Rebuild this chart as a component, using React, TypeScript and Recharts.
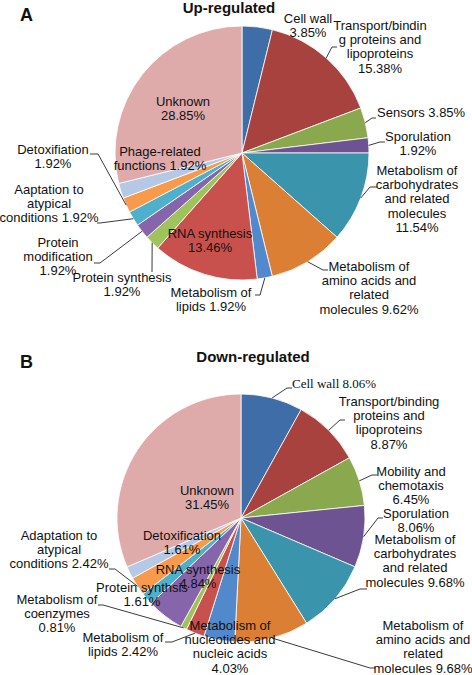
import { PieChart, Pie, Cell } from "recharts";

const UP_CATEGORIES = [
  "Cell wall",
  "Transport/binding proteins and lipoproteins",
  "Sensors",
  "Sporulation",
  "Metabolism of carbohydrates and related molecules",
  "Metabolism of amino acids and related molecules",
  "Metabolism of lipids",
  "RNA synthesis",
  "Protein synthesis",
  "Protein modification",
  "Aaptation to atypical conditions",
  "Detoxifiation",
  "Phage-related functions",
  "Unknown",
];
const UP_VALUES = [3.85, 15.38, 3.85, 1.92, 11.54, 9.62, 1.92, 13.46, 1.92, 1.92, 1.92, 1.92, 1.92, 28.85];
const UP_TEXT = [
  ["Cell wall", "3.85%"],
  ["Transport/bindin", "g proteins and", "lipoproteins", "15.38%"],
  ["Sensors 3.85%"],
  ["Sporulation", "1.92%"],
  ["Metabolism of", "carbohydrates", "and related", "molecules", "11.54%"],
  ["Metabolism of", "amino acids and", "related", "molecules 9.62%"],
  ["Metabolism of", "lipids 1.92%"],
  ["RNA synthesis", "13.46%"],
  ["Protein synthesis", "1.92%"],
  ["Protein", "modification", "1.92%"],
  ["Aaptation to", "atypical", "conditions 1.92%"],
  ["Detoxifiation", "1.92%"],
  ["Phage-related", "functions 1.92%"],
  ["Unknown", "28.85%"],
];

const DOWN_CATEGORIES = [
  "Cell wall",
  "Transport/binding proteins and lipoproteins",
  "Mobility and chemotaxis",
  "Sporulation",
  "Metabolism of carbohydrates and related molecules",
  "Metabolism of amino acids and related molecules",
  "Metabolism of nucleotides and nucleic acids",
  "Metabolism of lipids",
  "Metabolism of coenzymes",
  "RNA synthesis",
  "Protein synthsis",
  "Adaptation to atypical conditions",
  "Detoxification",
  "Unknown",
];
const DOWN_VALUES = [8.06, 8.87, 6.45, 8.06, 9.68, 9.68, 4.03, 2.42, 0.81, 4.84, 1.61, 2.42, 1.61, 31.45];
const DOWN_TEXT = [
  ["Cell wall  8.06%"],
  ["Transport/binding", "proteins and", "lipoproteins", "8.87%"],
  ["Mobility and", "chemotaxis", "6.45%"],
  ["Sporulation", "8.06%"],
  ["Metabolism of", "carbohydrates", "and related", "molecules 9.68%"],
  ["Metabolism of", "amino acids and", "related", "molecules 9.68%"],
  ["Metabolism of", "nucleotides and", "nucleic acids", "4.03%"],
  ["Metabolism of", "lipids 2.42%"],
  ["Metabolism of", "coenzymes", "0.81%"],
  ["RNA synthesis", "4.84%"],
  ["Protein synthsis", "1.61%"],
  ["Adaptation to", "atypical", "conditions 2.42%"],
  ["Detoxification", "1.61%"],
  ["Unknown", "31.45%"],
];

const COLORS = [
  "#3f6da8", "#a8423f", "#8aa84e", "#6d5391", "#3a94ab", "#db7f35",
  "#5289cc", "#c9514d", "#9fc35b", "#8665ab", "#4eb0cc", "#f89a4b",
  "#b5c8e6", "#deabaa",
];

type Layout = {
  x: number;
  y: number;
  anchor?: "start" | "middle" | "end";
  leader?: number[][];
  serif?: boolean;
};

// label placement (page pixels), leader = elbow + end point
const UP_LAYOUT: Layout[] = [
  { x: 308, y: 23 },
  { x: 380, y: 30, leader: [[332, 47], [337, 47]] },
  { x: 377, y: 117, anchor: "start", leader: [[372, 118], [376, 118]] },
  { x: 418, y: 141, leader: [[380, 142], [385, 142]] },
  { x: 417, y: 175, leader: [[370, 187], [377, 187]] },
  { x: 369, y: 271, leader: [[323, 270], [328, 270]] },
  { x: 211, y: 297, leader: [[260, 295], [255, 295]] },
  { x: 210, y: 238 },
  { x: 122, y: 282, leader: [[152, 272], [152, 272]] },
  { x: 58, y: 247, leader: [[100, 263], [94, 263]] },
  { x: 49, y: 194, leader: [[100, 223], [97, 223]] },
  { x: 53, y: 154, leader: [[98, 154], [90, 154]] },
  { x: 160, y: 156 },
  { x: 183, y: 106 },
];

const DOWN_LAYOUT: Layout[] = [
  { x: 292, y: 388, anchor: "start", serif: true, leader: [[287, 388], [292, 388]] },
  { x: 389, y: 406, leader: [[340, 420], [345, 420]] },
  { x: 411, y: 476, leader: [[372, 475], [377, 475]] },
  { x: 416, y: 518, leader: [[378, 518], [383, 518]] },
  { x: 415, y: 544, leader: [[360, 589], [367, 589]] },
  { x: 423, y: 630, leader: [[370, 668], [375, 668]] },
  { x: 230, y: 630 },
  { x: 123, y: 642, leader: [[172, 642], [165, 642]] },
  { x: 57, y: 604, leader: [[103, 605], [98, 605]] },
  { x: 198, y: 574 },
  { x: 142, y: 592 },
  { x: 59, y: 540, leader: [[115, 569], [109, 569]] },
  { x: 182, y: 540 },
  { x: 207, y: 495 },
];

const RADIAN = Math.PI / 180;
const FONT = "'Liberation Sans', Arial, sans-serif";
const LINE_H = 14.2;

function makeLabel(layouts: Layout[], texts: string[][]) {
  return (props: any) => {
    const { cx, cy, midAngle, outerRadius, index } = props;
    const l = layouts[index];
    const lines = texts[index];
    const sx = cx + outerRadius * Math.cos(-midAngle * RADIAN);
    const sy = cy + outerRadius * Math.sin(-midAngle * RADIAN);
    return (
      <g key={`lbl-${index}`}>
        {l.leader && (
          <polyline
            points={`${sx},${sy} ${l.leader.map((p) => p.join(",")).join(" ")}`}
            fill="none"
            stroke="#3a3a3a"
            strokeWidth={1}
          />
        )}
        <text
          x={l.x}
          y={l.y}
          textAnchor={l.anchor ?? "middle"}
          fontFamily={l.serif ? "'Liberation Serif', 'Times New Roman', serif" : FONT}
          fontSize={13}
          fill="#111"
        >
          {lines.map((t, i) => (
            <tspan key={i} x={l.x} y={l.y + i * LINE_H}>
              {t}
            </tspan>
          ))}
        </text>
      </g>
    );
  };
}

const upData = UP_CATEGORIES.map((name, i) => ({ name, value: UP_VALUES[i] }));
const downData = DOWN_CATEGORIES.map((name, i) => ({ name, value: DOWN_VALUES[i] }));

export default function App() {
  return (
    <div style={{ position: "absolute", left: 0, top: 0, width: 472, height: 675, background: "#fff" }}>
      <PieChart width={472} height={675} margin={{ top: 0, right: 0, bottom: 0, left: 0 }}>
        <Pie
          data={upData}
          dataKey="value"
          nameKey="name"
          cx={242}
          cy={153}
          outerRadius={127}
          startAngle={90}
          endAngle={-270}
          stroke="#ffffff"
          strokeWidth={0.8}
          label={makeLabel(UP_LAYOUT, UP_TEXT)}
          labelLine={false}
          isAnimationActive={false}
        >
          {upData.map((d, i) => (
            <Cell key={d.name} fill={COLORS[i]} />
          ))}
        </Pie>
        <Pie
          data={downData}
          dataKey="value"
          nameKey="name"
          cx={241}
          cy={518}
          outerRadius={124}
          startAngle={90}
          endAngle={-270}
          stroke="#ffffff"
          strokeWidth={0.8}
          label={makeLabel(DOWN_LAYOUT, DOWN_TEXT)}
          labelLine={false}
          isAnimationActive={false}
        >
          {downData.map((d, i) => (
            <Cell key={d.name} fill={COLORS[i]} />
          ))}
        </Pie>
      </PieChart>
      <svg width={472} height={675} style={{ position: "absolute", left: 0, top: 0, pointerEvents: "none" }}>
        <g fontFamily={FONT} fontWeight="bold" fill="#111">
          <text x={20} y={21} fontSize={18}>A</text>
          <text x={229} y={13} fontSize={15} textAnchor="middle">Up-regulated</text>
          <text x={20} y={368} fontSize={18}>B</text>
          <text x={253} y={362} fontSize={15} textAnchor="middle">Down-regulated</text>
        </g>
      </svg>
    </div>
  );
}
